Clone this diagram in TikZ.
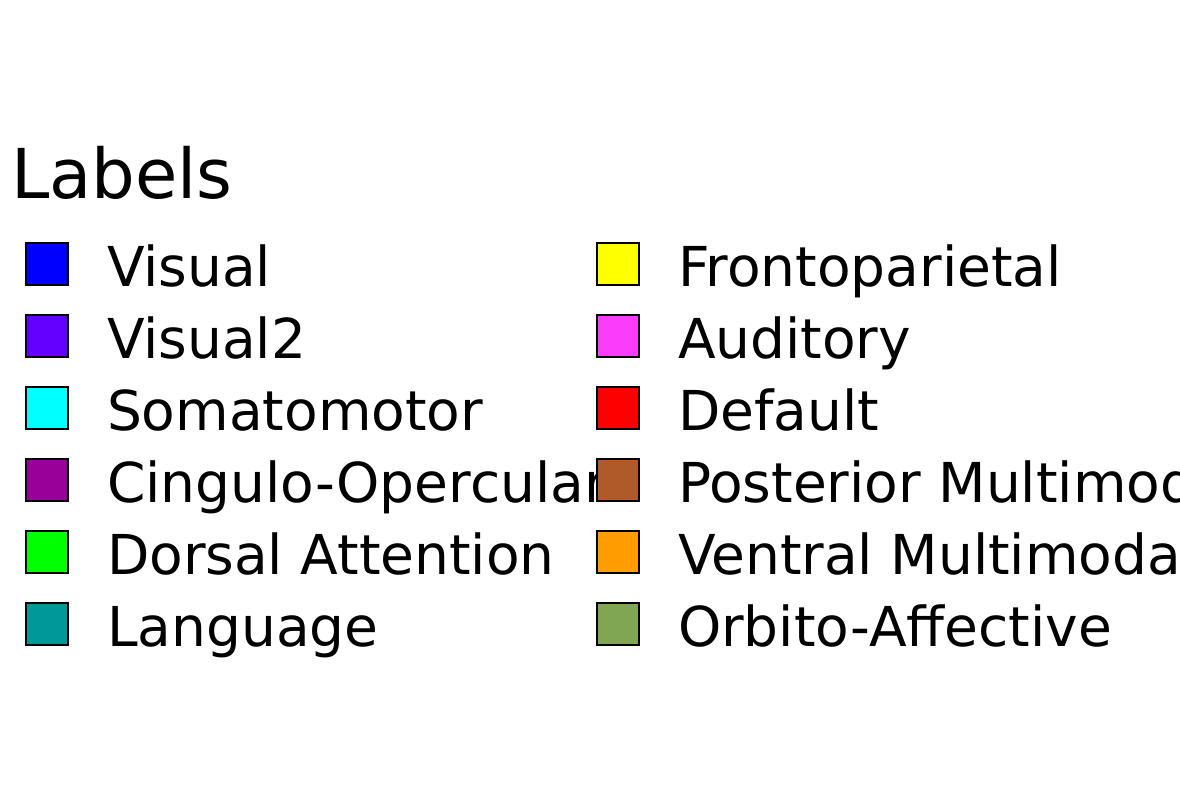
\documentclass[tikz,border=0pt]{standalone}
\usepackage{fontspec}
\setmainfont{DejaVu Sans}
\definecolor{cVisual}{rgb}{0,0,1}
\definecolor{cVisualTwo}{rgb}{0.392,0,1}
\definecolor{cSomato}{rgb}{0,1,1}
\definecolor{cCingulo}{rgb}{0.6,0,0.6}
\definecolor{cDorsal}{rgb}{0,1,0}
\definecolor{cLanguage}{rgb}{0,0.6,0.6}
\definecolor{cFronto}{rgb}{1,1,0}
\definecolor{cAuditory}{rgb}{0.98,0.24,0.98}
\definecolor{cDefault}{rgb}{1,0,0}
\definecolor{cPostMM}{rgb}{0.69,0.35,0.16}
\definecolor{cVentMM}{rgb}{1,0.61,0}
\definecolor{cOrbito}{rgb}{0.5,0.65,0.33}
\tikzset{
  swatch/.style={draw=black, line width=2.4pt, fill=#1, minimum size=42pt,
    inner sep=0pt, outer sep=0pt, anchor=north west},
  entry/.style={anchor=base west, inner sep=0pt, outer sep=0pt,
    font=\fontsize{55}{60}\selectfont},
  heading/.style={anchor=base west, inner sep=0pt, outer sep=0pt,
    font=\fontsize{68.8}{75}\selectfont}
}
\begin{document}
\begin{tikzpicture}[x=1pt,y=-1pt]
  \useasboundingbox (0,0) rectangle (1180,800);
  \fill[white] (0,0) rectangle (1180,800);
  \clip (0,0) rectangle (1180,800);
  \node[heading] (title) at (11,198) {Labels};
  % left column
  \foreach \i/\c/\t in {0/cVisual/Visual, 1/cVisualTwo/Visual2, 2/cSomato/Somatomotor,
      3/cCingulo/Cingulo-Opercular, 4/cDorsal/Dorsal Attention, 5/cLanguage/Language} {
    \node[swatch=\c] (L\i) at (26,{243+72*\i}) {};
    \node[entry] (Lt\i) at (107,{286+72*\i}) {\t};
  }
  % right column
  \foreach \i/\c/\t in {0/cFronto/Frontoparietal, 1/cAuditory/Auditory, 2/cDefault/Default,
      3/cPostMM/Posterior Multimodal, 4/cVentMM/Ventral Multimodal, 5/cOrbito/Orbito-Affective} {
    \node[swatch=\c] (R\i) at (597,{243+72*\i}) {};
    \node[entry] (Rt\i) at (678,{286+72*\i}) {\t};
  }
\end{tikzpicture}
\end{document}
